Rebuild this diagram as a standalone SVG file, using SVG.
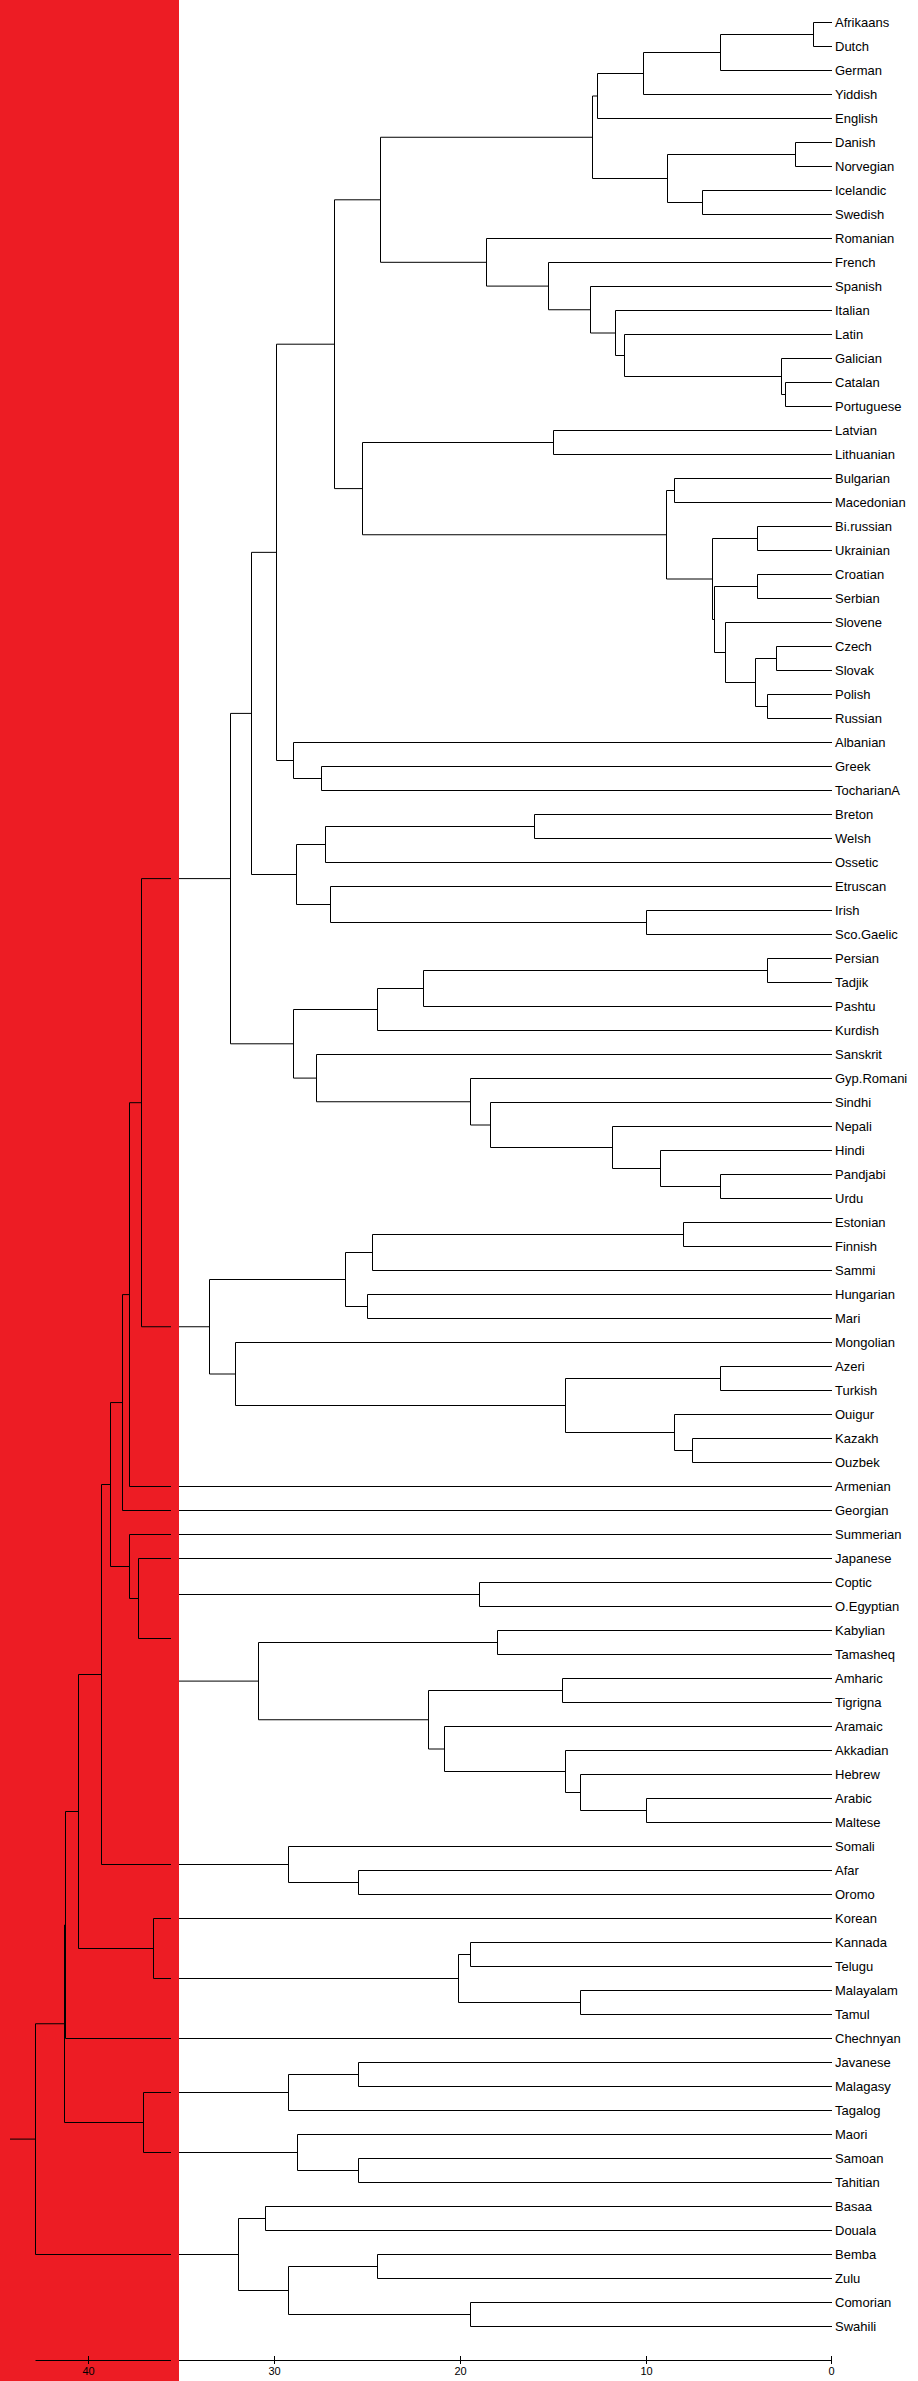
<svg xmlns="http://www.w3.org/2000/svg" width="918" height="2381" viewBox="0 0 918 2381">
<style>
.c{fill:none;stroke:#000;stroke-width:1}
.l{font-family:"Liberation Sans",Arial,sans-serif;font-size:13px;fill:#000}
.t{font-family:"Liberation Sans",Arial,sans-serif;font-size:11px;fill:#000;text-anchor:middle}
</style>
<rect x="0" y="0" width="918" height="2381" fill="#fff"/>
<rect id="red-band" x="0" y="0" width="179" height="2381" fill="#ED1C24"/>
<g id="connectors" class="c">
<path d="M832 22.5H813.5V46.5H832"/>
<path d="M813.5 34.5H720.5V70.5H832"/>
<path d="M720.5 52.5H643.5V94.5H832"/>
<path d="M643.5 73.5H597.5V118.5H832"/>
<path d="M832 142.5H795.5V166.5H832"/>
<path d="M832 190.5H702.5V214.5H832"/>
<path d="M795.5 154.5H667.5V202.5H702.5"/>
<path d="M597.5 96H592.5V178.5H667.5"/>
<path d="M832 382.5H785.5V406.5H832"/>
<path d="M832 358.5H781.5V394.5H785.5"/>
<path d="M832 334.5H624.5V376.5H781.5"/>
<path d="M832 310.5H615.5V355.5H624.5"/>
<path d="M832 286.5H590.5V333H615.5"/>
<path d="M832 262.5H548.5V309.75H590.5"/>
<path d="M832 238.5H486.5V286.1H548.5"/>
<path d="M592.5 137.25H380.5V262.3H486.5"/>
<path d="M832 430.5H553.5V454.5H832"/>
<path d="M832 478.5H674.5V502.5H832"/>
<path d="M832 526.5H757.5V550.5H832"/>
<path d="M832 574.5H757.5V598.5H832"/>
<path d="M832 646.5H776.5V670.5H832"/>
<path d="M832 694.5H767.5V718.5H832"/>
<path d="M776.5 658.5H755.5V706.5H767.5"/>
<path d="M832 622.5H725.5V682.5H755.5"/>
<path d="M757.5 586.5H714.5V652.5H725.5"/>
<path d="M757.5 538.5H712.5V619.5H714.5"/>
<path d="M674.5 490.5H666.5V579H712.5"/>
<path d="M553.5 442.5H362.5V534.75H666.5"/>
<path d="M380.5 199.8H334.5V488.6H362.5"/>
<path d="M832 766.5H321.5V790.5H832"/>
<path d="M832 742.5H293.5V778.5H321.5"/>
<path d="M334.5 344.2H276.5V760.5H293.5"/>
<path d="M832 814.5H534.5V838.5H832"/>
<path d="M534.5 826.5H325.5V862.5H832"/>
<path d="M832 910.5H646.5V934.5H832"/>
<path d="M832 886.5H330.5V922.5H646.5"/>
<path d="M325.5 844.5H296.5V904.5H330.5"/>
<path d="M276.5 552.35H251.5V874.5H296.5"/>
<path d="M832 958.5H767.5V982.5H832"/>
<path d="M767.5 970.5H423.5V1006.5H832"/>
<path d="M423.5 988.5H377.5V1030.5H832"/>
<path d="M832 1174.5H720.5V1198.5H832"/>
<path d="M832 1150.5H660.5V1186.5H720.5"/>
<path d="M832 1126.5H612.5V1168.5H660.5"/>
<path d="M832 1102.5H490.5V1147.5H612.5"/>
<path d="M832 1078.5H470.5V1125H490.5"/>
<path d="M832 1054.5H316.5V1101.75H470.5"/>
<path d="M377.5 1009.5H293.5V1078.1H316.5"/>
<path d="M251.5 713.4H230.5V1043.8H293.5"/>
<path d="M832 1222.5H683.5V1246.5H832"/>
<path d="M683.5 1234.5H372.5V1270.5H832"/>
<path d="M832 1294.5H367.5V1318.5H832"/>
<path d="M372.5 1252.5H345.5V1306.5H367.5"/>
<path d="M832 1366.5H720.5V1390.5H832"/>
<path d="M832 1438.5H692.5V1462.5H832"/>
<path d="M832 1414.5H674.5V1450.5H692.5"/>
<path d="M720.5 1378.5H565.5V1432.5H674.5"/>
<path d="M832 1342.5H235.5V1405.5H565.5"/>
<path d="M345.5 1279.5H209.5V1374H235.5"/>
<path d="M230.5 878.6H141.5V1326.75H209.5"/>
<path d="M141.5 1102.7H129.5V1486.5H832"/>
<path d="M129.5 1294.6H122.5V1510.5H832"/>
<path d="M832 1558.5H138.5V1638.5H171"/>
<path d="M832 1534.5H129.5V1598.5H138.5"/>
<path d="M122.5 1402.55H110.5V1566.5H129.5"/>
<path d="M832 1870.5H358.5V1894.5H832"/>
<path d="M832 1846.5H288.5V1882.5H358.5"/>
<path d="M110.5 1484.5H101.5V1864.5H288.5"/>
<path d="M832 1582.5H479.5V1606.5H832M479.5 1594.5H179"/>
<path d="M832 1630.5H497.5V1654.5H832"/>
<path d="M832 1678.5H562.5V1702.5H832"/>
<path d="M832 1798.5H646.5V1822.5H832"/>
<path d="M832 1774.5H580.5V1810.5H646.5"/>
<path d="M832 1750.5H565.5V1792.5H580.5"/>
<path d="M832 1726.5H444.5V1771.5H565.5"/>
<path d="M562.5 1690.5H428.5V1749H444.5"/>
<path d="M497.5 1642.5H258.5V1719.75H428.5M258.5 1681.1H179"/>
<path d="M832 1942.5H470.5V1966.5H832"/>
<path d="M832 1990.5H580.5V2014.5H832"/>
<path d="M470.5 1954.5H458.5V2002.5H580.5"/>
<path d="M832 1918.5H153.5V1978.5H458.5"/>
<path d="M101.5 1674.5H78.5V1948.5H153.5"/>
<path d="M78.5 1811.5H65.5V2038.5H832"/>
<path d="M832 2062.5H358.5V2086.5H832"/>
<path d="M358.5 2074.5H288.5V2110.5H832"/>
<path d="M832 2158.5H358.5V2182.5H832"/>
<path d="M832 2134.5H297.5V2170.5H358.5"/>
<path d="M288.5 2092.5H143.5V2152.5H297.5"/>
<path d="M65.5 1925H64.5V2122.5H143.5"/>
<path d="M832 2206.5H265.5V2230.5H832"/>
<path d="M832 2254.5H377.5V2278.5H832"/>
<path d="M832 2302.5H470.5V2326.5H832"/>
<path d="M377.5 2266.5H288.5V2314.5H470.5"/>
<path d="M265.5 2218.5H238.5V2290.5H288.5"/>
<path d="M64.5 2023.75H35.5V2254.5H238.5"/>
<path d="M10 2139.1H35.5"/>
</g>
<g id="axis" class="c">
<path d="M35.5 2360.5H832"/>
<path d="M88.5 2356V2364M274.5 2356V2364M460.5 2356V2364M646.5 2356V2364M831.5 2356V2364"/>
</g>
<rect id="gap" x="171" y="0" width="8" height="2381" fill="#ED1C24"/>
<g id="axis-labels" class="t">
<text x="88.5" y="2375">40</text>
<text x="274.5" y="2375">30</text>
<text x="460.5" y="2375">20</text>
<text x="646.5" y="2375">10</text>
<text x="831.5" y="2375">0</text>
</g>
<g id="leaves" class="l">
<g id="n-afrikaans"><text x="835" y="27">Afrikaans</text></g>
<g id="n-dutch"><text x="835" y="51">Dutch</text></g>
<g id="n-german"><text x="835" y="75">German</text></g>
<g id="n-yiddish"><text x="835" y="99">Yiddish</text></g>
<g id="n-english"><text x="835" y="123">English</text></g>
<g id="n-danish"><text x="835" y="147">Danish</text></g>
<g id="n-norvegian"><text x="835" y="171">Norvegian</text></g>
<g id="n-icelandic"><text x="835" y="195">Icelandic</text></g>
<g id="n-swedish"><text x="835" y="219">Swedish</text></g>
<g id="n-romanian"><text x="835" y="243">Romanian</text></g>
<g id="n-french"><text x="835" y="267">French</text></g>
<g id="n-spanish"><text x="835" y="291">Spanish</text></g>
<g id="n-italian"><text x="835" y="315">Italian</text></g>
<g id="n-latin"><text x="835" y="339">Latin</text></g>
<g id="n-galician"><text x="835" y="363">Galician</text></g>
<g id="n-catalan"><text x="835" y="387">Catalan</text></g>
<g id="n-portuguese"><text x="835" y="411">Portuguese</text></g>
<g id="n-latvian"><text x="835" y="435">Latvian</text></g>
<g id="n-lithuanian"><text x="835" y="459">Lithuanian</text></g>
<g id="n-bulgarian"><text x="835" y="483">Bulgarian</text></g>
<g id="n-macedonian"><text x="835" y="507">Macedonian</text></g>
<g id="n-birussian"><text x="835" y="531">Bi.russian</text></g>
<g id="n-ukrainian"><text x="835" y="555">Ukrainian</text></g>
<g id="n-croatian"><text x="835" y="579">Croatian</text></g>
<g id="n-serbian"><text x="835" y="603">Serbian</text></g>
<g id="n-slovene"><text x="835" y="627">Slovene</text></g>
<g id="n-czech"><text x="835" y="651">Czech</text></g>
<g id="n-slovak"><text x="835" y="675">Slovak</text></g>
<g id="n-polish"><text x="835" y="699">Polish</text></g>
<g id="n-russian"><text x="835" y="723">Russian</text></g>
<g id="n-albanian"><text x="835" y="747">Albanian</text></g>
<g id="n-greek"><text x="835" y="771">Greek</text></g>
<g id="n-tochariana"><text x="835" y="795">TocharianA</text></g>
<g id="n-breton"><text x="835" y="819">Breton</text></g>
<g id="n-welsh"><text x="835" y="843">Welsh</text></g>
<g id="n-ossetic"><text x="835" y="867">Ossetic</text></g>
<g id="n-etruscan"><text x="835" y="891">Etruscan</text></g>
<g id="n-irish"><text x="835" y="915">Irish</text></g>
<g id="n-scogaelic"><text x="835" y="939">Sco.Gaelic</text></g>
<g id="n-persian"><text x="835" y="963">Persian</text></g>
<g id="n-tadjik"><text x="835" y="987">Tadjik</text></g>
<g id="n-pashtu"><text x="835" y="1011">Pashtu</text></g>
<g id="n-kurdish"><text x="835" y="1035">Kurdish</text></g>
<g id="n-sanskrit"><text x="835" y="1059">Sanskrit</text></g>
<g id="n-gypromani"><text x="835" y="1083">Gyp.Romani</text></g>
<g id="n-sindhi"><text x="835" y="1107">Sindhi</text></g>
<g id="n-nepali"><text x="835" y="1131">Nepali</text></g>
<g id="n-hindi"><text x="835" y="1155">Hindi</text></g>
<g id="n-pandjabi"><text x="835" y="1179">Pandjabi</text></g>
<g id="n-urdu"><text x="835" y="1203">Urdu</text></g>
<g id="n-estonian"><text x="835" y="1227">Estonian</text></g>
<g id="n-finnish"><text x="835" y="1251">Finnish</text></g>
<g id="n-sammi"><text x="835" y="1275">Sammi</text></g>
<g id="n-hungarian"><text x="835" y="1299">Hungarian</text></g>
<g id="n-mari"><text x="835" y="1323">Mari</text></g>
<g id="n-mongolian"><text x="835" y="1347">Mongolian</text></g>
<g id="n-azeri"><text x="835" y="1371">Azeri</text></g>
<g id="n-turkish"><text x="835" y="1395">Turkish</text></g>
<g id="n-ouigur"><text x="835" y="1419">Ouigur</text></g>
<g id="n-kazakh"><text x="835" y="1443">Kazakh</text></g>
<g id="n-ouzbek"><text x="835" y="1467">Ouzbek</text></g>
<g id="n-armenian"><text x="835" y="1491">Armenian</text></g>
<g id="n-georgian"><text x="835" y="1515">Georgian</text></g>
<g id="n-summerian"><text x="835" y="1539">Summerian</text></g>
<g id="n-japanese"><text x="835" y="1563">Japanese</text></g>
<g id="n-coptic"><text x="835" y="1587">Coptic</text></g>
<g id="n-oegyptian"><text x="835" y="1611">O.Egyptian</text></g>
<g id="n-kabylian"><text x="835" y="1635">Kabylian</text></g>
<g id="n-tamasheq"><text x="835" y="1659">Tamasheq</text></g>
<g id="n-amharic"><text x="835" y="1683">Amharic</text></g>
<g id="n-tigrigna"><text x="835" y="1707">Tigrigna</text></g>
<g id="n-aramaic"><text x="835" y="1731">Aramaic</text></g>
<g id="n-akkadian"><text x="835" y="1755">Akkadian</text></g>
<g id="n-hebrew"><text x="835" y="1779">Hebrew</text></g>
<g id="n-arabic"><text x="835" y="1803">Arabic</text></g>
<g id="n-maltese"><text x="835" y="1827">Maltese</text></g>
<g id="n-somali"><text x="835" y="1851">Somali</text></g>
<g id="n-afar"><text x="835" y="1875">Afar</text></g>
<g id="n-oromo"><text x="835" y="1899">Oromo</text></g>
<g id="n-korean"><text x="835" y="1923">Korean</text></g>
<g id="n-kannada"><text x="835" y="1947">Kannada</text></g>
<g id="n-telugu"><text x="835" y="1971">Telugu</text></g>
<g id="n-malayalam"><text x="835" y="1995">Malayalam</text></g>
<g id="n-tamul"><text x="835" y="2019">Tamul</text></g>
<g id="n-chechnyan"><text x="835" y="2043">Chechnyan</text></g>
<g id="n-javanese"><text x="835" y="2067">Javanese</text></g>
<g id="n-malagasy"><text x="835" y="2091">Malagasy</text></g>
<g id="n-tagalog"><text x="835" y="2115">Tagalog</text></g>
<g id="n-maori"><text x="835" y="2139">Maori</text></g>
<g id="n-samoan"><text x="835" y="2163">Samoan</text></g>
<g id="n-tahitian"><text x="835" y="2187">Tahitian</text></g>
<g id="n-basaa"><text x="835" y="2211">Basaa</text></g>
<g id="n-douala"><text x="835" y="2235">Douala</text></g>
<g id="n-bemba"><text x="835" y="2259">Bemba</text></g>
<g id="n-zulu"><text x="835" y="2283">Zulu</text></g>
<g id="n-comorian"><text x="835" y="2307">Comorian</text></g>
<g id="n-swahili"><text x="835" y="2331">Swahili</text></g>
</g>
</svg>
